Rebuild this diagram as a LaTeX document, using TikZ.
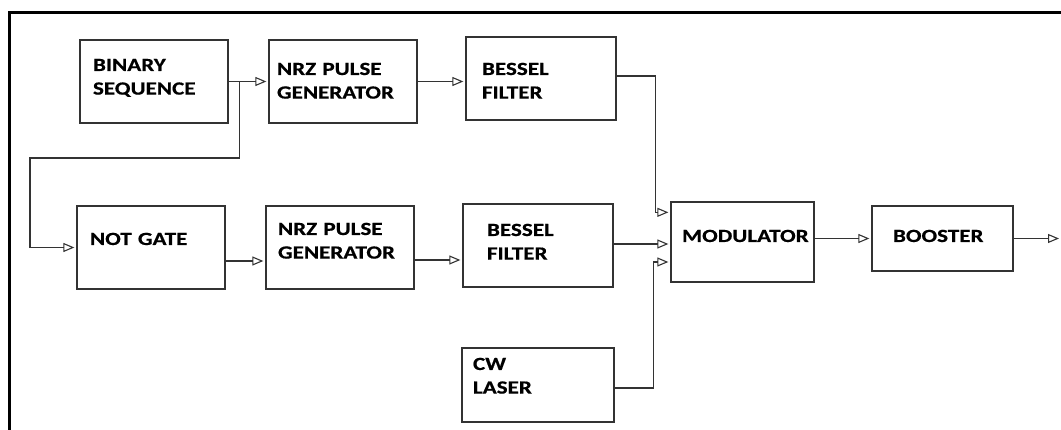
\documentclass[tikz,border=0pt]{standalone}
\usepackage{fontspec}
\usepackage{tikz}
\usetikzlibrary{positioning}
\usetikzlibrary{arrows.meta}
\newfontfamily\blockfont{Carlito}[FakeStretch=1.24, FakeBold=0.6]
\definecolor{lgray}{rgb}{0.2, 0.2, 0.2}
\tikzset{box/.style = {draw=lgray, line width=1.3pt, align=left, inner ysep=0pt,
                       text height=12pt,
                       font=\blockfont\bfseries\fontsize{18.6}{23.6}\selectfont}}
\tikzset{sig/.style = {draw=lgray, line width=1.1pt, shorten >=2pt,
                       -{Triangle[open, length=11pt, width=9pt]}}}
\tikzset{wire/.style = {draw=lgray, line width=1.1pt}}

\begin{document}
\begin{tikzpicture}[x=1pt, y=1pt]
      \useasboundingbox (0,0) rectangle (1061,430);
      \draw[line width=2.7pt] (9.7,0) -- (9.7,417.8) -- (1061,417.8);
      \node[box, minimum height=83pt, inner xsep=13pt, text width=122pt, text depth=33pt]
        (bin) at (154,348.5) {BINARY\\SEQUENCE};
      \node[box, minimum height=83pt, inner xsep=8pt, text width=132pt, text depth=25pt]
        (nrz1) at (343,348.5) {NRZ PULSE\\GENERATOR};
      \node[box, minimum height=83pt, inner xsep=16pt, text width=118pt, text depth=19pt]
        (bes1) at (541,351.5) {BESSEL\\FILTER};
      \node[box, minimum height=83pt, inner xsep=13pt, text width=122pt, text depth=17pt]
        (not) at (151,182.5) {NOT GATE};
      \node[box, minimum height=83pt, inner xsep=12pt, text width=124pt, text depth=37pt]
        (nrz2) at (340,182.5) {NRZ PULSE\\GENERATOR};
      \node[box, minimum height=83pt, inner xsep=24pt, text width=102pt, text depth=31pt]
        (bes2) at (538,184.5) {BESSEL\\FILTER};
      \node[box, minimum height=74pt, inner xsep=11pt, text width=130pt, text depth=42pt]
        (cw) at (538,45) {CW\\LASER};
      \node[box, minimum height=80pt, inner xsep=11pt, text width=121pt, text depth=12pt]
        (mod) at (742.5,188) {MODULATOR};
      \node[box, minimum height=65pt, inner xsep=21pt, text width=99pt, text depth=5pt]
        (boo) at (942.5,191.5) {BOOSTER};
      \coordinate (br) at ([xshift=11pt]bin.east);
      \coordinate (k2) at (30,272);
      \coordinate (m1) at ([yshift=-11pt]mod.north west);
      \coordinate (m3) at ([yshift=-20pt]mod.west);
      \coordinate (out) at (1061,191.5);
      \draw[sig] (bin) -- (nrz1);
      \draw[sig] (nrz1.east) -- (nrz1.east -| bes1.west);
      \draw[sig] (br) |- (k2) |- (not.west);
      \draw[sig] ([yshift=-13.5pt]not.east) -- ([yshift=-13.5pt]not.east -| nrz2.west);
      \draw[sig] ([yshift=-12.5pt]nrz2.east) -- ([yshift=-12.5pt]nrz2.east -| bes2.west);
      \draw[sig] ([yshift=2.5pt]bes1.east) -| ([xshift=-15pt]m1) -- (m1);
      \draw[sig] ([yshift=1.5pt]bes2.east) -- ([yshift=1.5pt]bes2.east -| mod.west);
      \draw[sig] ([yshift=-3pt]cw.east) -| ([xshift=-17pt]m3) -- (m3);
      \draw[sig] (boo.west -| mod.east) -- (boo.west);
      \draw[sig] (boo.east) -- (out);
\end{tikzpicture}
\end{document}
